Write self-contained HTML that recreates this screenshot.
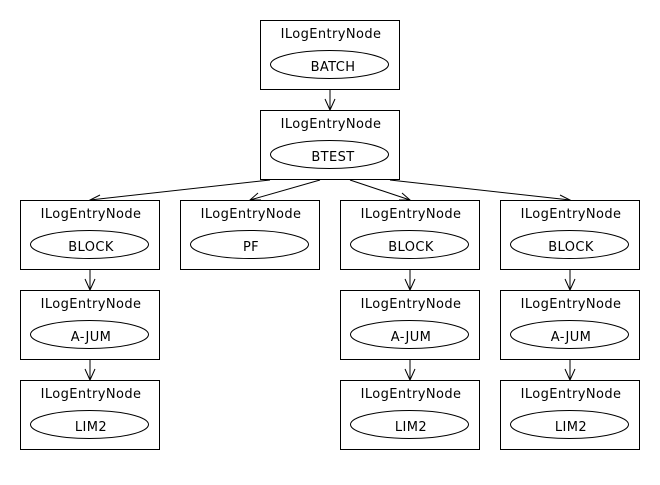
<!DOCTYPE html>
<html><head><style>body{margin:0;background:#fff}</style></head><body>
<svg width="660" height="480" viewBox="0 0 660 480" xmlns="http://www.w3.org/2000/svg" font-family="DejaVu Sans, sans-serif" font-size="13" letter-spacing="0.4">
<defs><g id="n"><rect x="0.5" y="0.5" width="139" height="69" fill="#fff" stroke="#000"/><text x="71" y="18" text-anchor="middle">ILogEntryNode</text><ellipse cx="69.5" cy="44.5" rx="59" ry="14" fill="#fff" stroke="#000"/></g></defs>
<g stroke="#000" fill="none">
<line x1="330" y1="90" x2="330" y2="110"/><polyline points="325,99 330,110 335,99"/>
<line x1="270" y1="180" x2="90" y2="200"/><polyline points="100,195 90,200 101,202"/>
<line x1="320" y1="180" x2="250" y2="200"/><polyline points="258,193 250,200 261,200"/>
<line x1="350" y1="180" x2="410" y2="200"/><polyline points="399,200 410,200 402,193"/>
<line x1="390" y1="180" x2="570" y2="200"/><polyline points="559,202 570,200 560,195"/>
<line x1="90" y1="270" x2="90" y2="290"/><polyline points="85,279 90,290 95,279"/>
<line x1="90" y1="360" x2="90" y2="380"/><polyline points="85,369 90,380 95,369"/>
<line x1="410" y1="270" x2="410" y2="290"/><polyline points="405,279 410,290 415,279"/>
<line x1="410" y1="360" x2="410" y2="380"/><polyline points="405,369 410,380 415,369"/>
<line x1="570" y1="270" x2="570" y2="290"/><polyline points="565,279 570,290 575,279"/>
<line x1="570" y1="360" x2="570" y2="380"/><polyline points="565,369 570,380 575,369"/>
</g>
<g text-anchor="middle">
<use href="#n" x="260" y="20"/><text x="333" y="71">BATCH</text>
<use href="#n" x="260" y="110"/><text x="333" y="161">BTEST</text>
<use href="#n" x="20" y="200"/><text x="91" y="251">BLOCK</text>
<use href="#n" x="180" y="200"/><text x="251" y="251">PF</text>
<use href="#n" x="340" y="200"/><text x="411" y="251">BLOCK</text>
<use href="#n" x="500" y="200"/><text x="571" y="251">BLOCK</text>
<use href="#n" x="20" y="290"/><text x="91" y="341">A-JUM</text>
<use href="#n" x="340" y="290"/><text x="411" y="341">A-JUM</text>
<use href="#n" x="500" y="290"/><text x="571" y="341">A-JUM</text>
<use href="#n" x="20" y="380"/><text x="91" y="431">LIM2</text>
<use href="#n" x="340" y="380"/><text x="411" y="431">LIM2</text>
<use href="#n" x="500" y="380"/><text x="571" y="431">LIM2</text>
</g>
</svg>
</body></html>
